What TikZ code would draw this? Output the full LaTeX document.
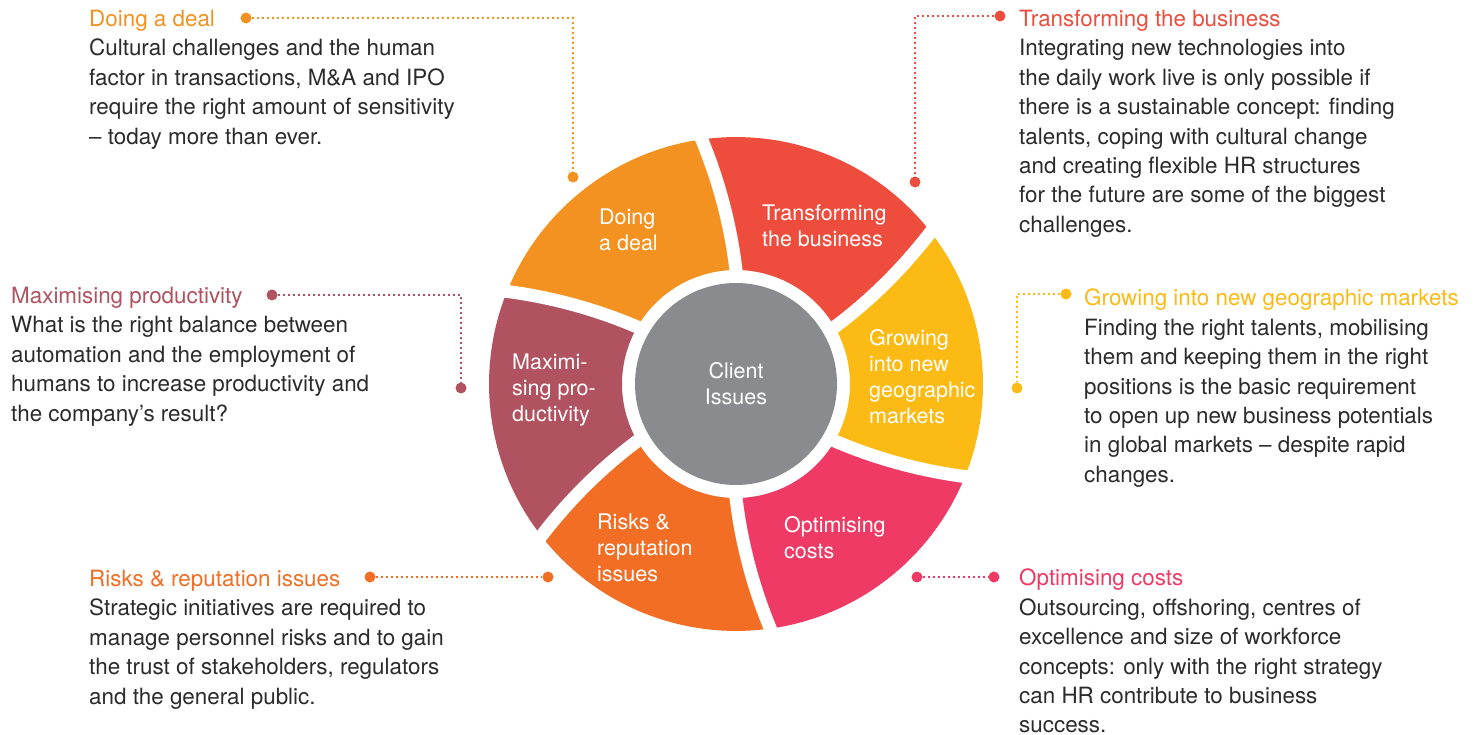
\documentclass[tikz,border=0pt]{standalone}
\usepackage{fontspec}
\setmainfont{TeX Gyre Heros}
\usepackage{xcolor}
\usepackage{tikz}

\definecolor{dealorange}{HTML}{F39220}
\definecolor{transred}{HTML}{EE4D3E}
\definecolor{growyellow}{HTML}{FBBA14}
\definecolor{costpink}{HTML}{EE3A64}
\definecolor{riskorange}{HTML}{F26E25}
\definecolor{maxred}{HTML}{B0525F}
\definecolor{clientgray}{HTML}{8A8B8E}
\definecolor{bodytext}{HTML}{2B2B2B}

\begin{document}
\begin{tikzpicture}[x=1pt,y=1pt]
        % Define styles
        \tikzset{
            info/.style={anchor=north west, align=left, inner sep=0pt, text=bodytext, font=\fontsize{22.4}{29.4}\selectfont},
            wheel label/.style={anchor=north west, align=left, inner sep=0pt, text=white, font=\fontsize{21.5}{26}\selectfont},
            endpoint/.style={circle, fill=#1, inner sep=0pt, minimum size=11pt},
            leader/.style={draw=#1, line width=2.8pt, dash pattern=on 2.6pt off 2.4pt},
            seam/.style={draw=white, line width=13pt}
        }

        \path[fill=white] (0,0) rectangle (1478,734);
        \useasboundingbox (0,0) rectangle (1478,734);

        % Wheel
        \begin{scope}[shift={(736,350)}]
            \foreach \a/\col in {90/transred, 30/growyellow, -30/costpink, -90/riskorange, -150/maxred, 150/dealorange} {
                \pgfmathsetmacro{\b}{\a-60}
                \pgfmathsetmacro{\ao}{\a+8}
                \pgfmathsetmacro{\bo}{\b+8}
                \fill[\col] (\a:114) arc[start angle=\a, end angle=\b, radius=114]
                    -- plot[domain=114:247, samples=15, variable=\r] ({\b+0.06*(\r-114)}:\r)
                    arc[start angle=\bo, end angle=\ao, radius=247]
                    -- plot[domain=247:114, samples=15, variable=\r] ({\a+0.06*(\r-114)}:\r)
                    -- cycle;
            }
            \foreach \a in {90,30,-30,-90,-150,150}
                \draw[seam] plot[domain=104:254, samples=15, variable=\r] ({\a+0.06*(\r-114)}:\r);
        \end{scope}

        % Nodes
        \node[circle, fill=clientgray, minimum size=202pt, inner sep=0pt, text=white, align=center, font=\fontsize{21.5}{26}\selectfont] (client) at (736,350) {Client\\Issues};
        \node[wheel label] (deal-seg) at (599,525) {Doing\\a deal};
        \node[wheel label] (trans-seg) at (762,529) {Transforming\\the business};
        \node[wheel label] (grow-seg) at (869,405) {Growing\\into new\\geographic\\markets};
        \node[wheel label] (max-seg) at (512,380) {Maximi-\\sing pro-\\ductivity};
        \node[wheel label] (risk-seg) at (597,220) {Risks \&\\reputation\\issues};
        \node[wheel label] (cost-seg) at (784,218) {Optimising\\costs};

        \node[info] (deal-info) at (89,724) {\textcolor{dealorange}{Doing a deal}\\Cultural challenges and the human\\factor in transactions, M\&A and IPO\\require the right amount of sensitivity\\-- today more than ever.};
        \node[info] (trans-info) at (1019,724) {\textcolor{transred}{Transforming the business}\\Integrating new technologies into\\the daily work live is only possible if\\there is a sustainable concept: finding\\talents, coping with cultural change\\and creating flexible HR structures\\for the future are some of the biggest\\challenges.};
        \node[info] (max-info) at (11,447) {\textcolor{maxred}{Maximising productivity}\\What is the right balance between\\automation and the employment of\\humans to increase productivity and\\the company’s result?};
        \node[info] (grow-info) at (1084,445) {\textcolor{growyellow}{Growing into new geographic markets}\\Finding the right talents, mobilising\\them and keeping them in the right\\positions is the basic requirement\\to open up new business potentials\\in global markets -- despite rapid\\changes.};
        \node[info] (risk-info) at (89,164) {\textcolor{riskorange}{Risks \& reputation issues}\\Strategic initiatives are required to\\manage personnel risks and to gain\\the trust of stakeholders, regulators\\and the general public.};
        \node[info] (cost-info) at (1019,165) {\textcolor{costpink}{Optimising costs}\\Outsourcing, offshoring, centres of\\excellence and size of workforce\\concepts: only with the right strategy\\can HR contribute to business\\success.};

        \node[endpoint=dealorange] (deal-a) at (246,716) {};
        \node[endpoint=dealorange] (deal-b) at (573,557) {};
        \node[endpoint=transred] (trans-a) at (1000,718) {};
        \node[endpoint=transred] (trans-b) at (915,552) {};
        \node[endpoint=maxred] (max-a) at (272,439) {};
        \node[endpoint=maxred] (max-b) at (461,346) {};
        \node[endpoint=growyellow] (grow-a) at (1066,440) {};
        \node[endpoint=growyellow] (grow-b) at (1017,346) {};
        \node[endpoint=riskorange] (risk-a) at (370,157) {};
        \node[endpoint=riskorange] (risk-b) at (548,157) {};
        \node[endpoint=costpink] (cost-a) at (994,157) {};
        \node[endpoint=costpink] (cost-b) at (917,157) {};

        % Connectors
        \draw[leader=dealorange] (deal-a) -| (deal-b);
        \draw[leader=transred] (trans-a) -| (trans-b);
        \draw[leader=maxred] (max-a) -| (max-b);
        \draw[leader=growyellow] (grow-a) -| (grow-b);
        \draw[leader=riskorange] (risk-a) -- (risk-b);
        \draw[leader=costpink] (cost-b) -- (cost-a);
\end{tikzpicture}
\end{document}
